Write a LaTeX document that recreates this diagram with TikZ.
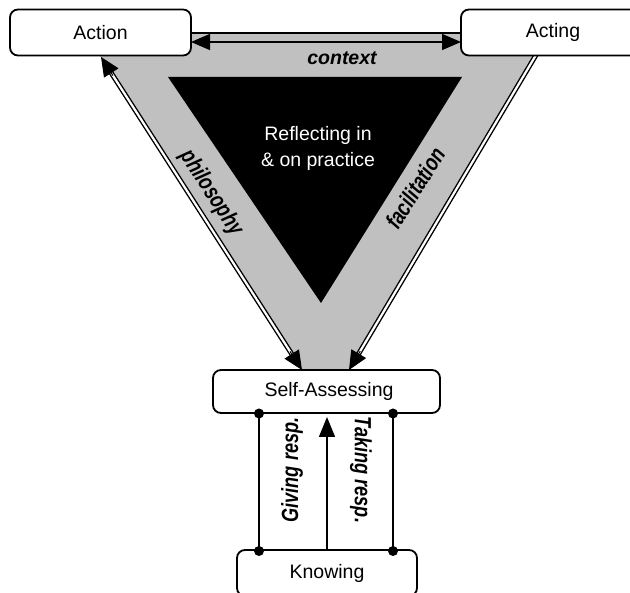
\documentclass[tikz,border=0pt]{standalone}
\usepackage{fontspec}
\setmainfont{Liberation Sans}
\usetikzlibrary{arrows.meta,backgrounds,calc}
\definecolor{band}{RGB}{192,192,192}
\begin{document}
\begin{tikzpicture}[x=1pt,y=-1pt,
  box/.style={draw=black, line width=1.8pt, rounded corners=8pt, fill=white, inner sep=0pt, font=\fontsize{19.5}{23}\selectfont},
  lbl/.style={font=\fontsize{19.5}{23}\selectfont\bfseries\itshape, inner sep=0pt},
  rlbl/.style={lbl, rotate=#1, xscale=0.93, yscale=1.2},
  dbl/.style={draw=black, line width=1.4pt, double=white, double distance=2.2pt},
  tipline/.style={draw=black, line width=1pt, -{Triangle[length=19pt,width=17pt]}},
  dot/.style={circle, fill=black, inner sep=0pt, minimum size=10pt},
  thin/.style={draw=black, line width=1.4pt},
]
\useasboundingbox (0,0) rectangle (630,593);
% boxes
\node[box, minimum width=181pt, minimum height=46pt] (action) at (100.5,32.5) {Action};
\node[box, minimum width=184pt, minimum height=46pt] (acting) at (553,32.5) {Acting};
\node[box, minimum width=227pt, minimum height=43pt] (self) at (326.5,391.5) {\hspace*{5pt}Self-Assessing};
\node[box, minimum width=180pt, minimum height=46pt] (know) at (327,573) {Knowing};
% coordinates
\coordinate (phA) at (101,57);
\coordinate (phS) at (302,370);
\coordinate (faA) at (536,55);
\coordinate (faS) at (349,370);
\coordinate (cxA) at (191,42);
\coordinate (cxB) at (461,42);
\coordinate (ctA) at (191,33);
\coordinate (ctB) at (461,33);
\coordinate (mtip) at (327,417);
\begin{scope}[on background layer]
  \fill[band] (85,33) -- (549,33) -- (349,370) -- (302,370) -- cycle;
  \fill[black] (168,77) -- (462,77) -- (321,303) -- cycle;
  \draw[dbl, shorten <=14pt, shorten >=14pt] (phA) -- (phS);
  \draw[tipline] ($(phA)!22pt!(phS)$) -- (phA);
  \draw[tipline] ($(phS)!22pt!(phA)$) -- (phS);
  \draw[dbl, shorten >=14pt] (faA) -- (faS);
  \draw[tipline] ($(faS)!22pt!(faA)$) -- (faS);
  \draw[thin] (ctA) -- (ctB);
  \draw[thin, {Triangle[length=19pt,width=16pt]}-{Triangle[length=19pt,width=16pt]}] (cxA) -- (cxB);
\end{scope}
% lower connectors
\node[dot] (d1) at (259,413.5) {};
\node[dot] (d2) at (393,413.5) {};
\node[dot] (d3) at (259,551) {};
\node[dot] (d4) at (393,551) {};
\draw[thin] (d1.center) -- (d3.center);
\draw[thin] (d2.center) -- (d4.center);
\draw[thin, -{Triangle[length=20pt,width=16pt]}] (know.north) -- (mtip);
% labels
\node[lbl] (ctx) at (342,58) {context};
\node[rlbl=-57] (phil) at (211,193) {philosophy};
\node[rlbl=58] (fac) at (415,188) {facilitation};
\node[rlbl=90] (giv) at (292,470) {Giving resp.};
\node[rlbl=-90] (tak) at (361,470) {Taking resp.};
\node[font=\fontsize{19.5}{26}\selectfont, text=white, align=center, inner sep=0pt] (refl) at (318,148) {Reflecting in\\ \& on practice};
\end{tikzpicture}
\end{document}
